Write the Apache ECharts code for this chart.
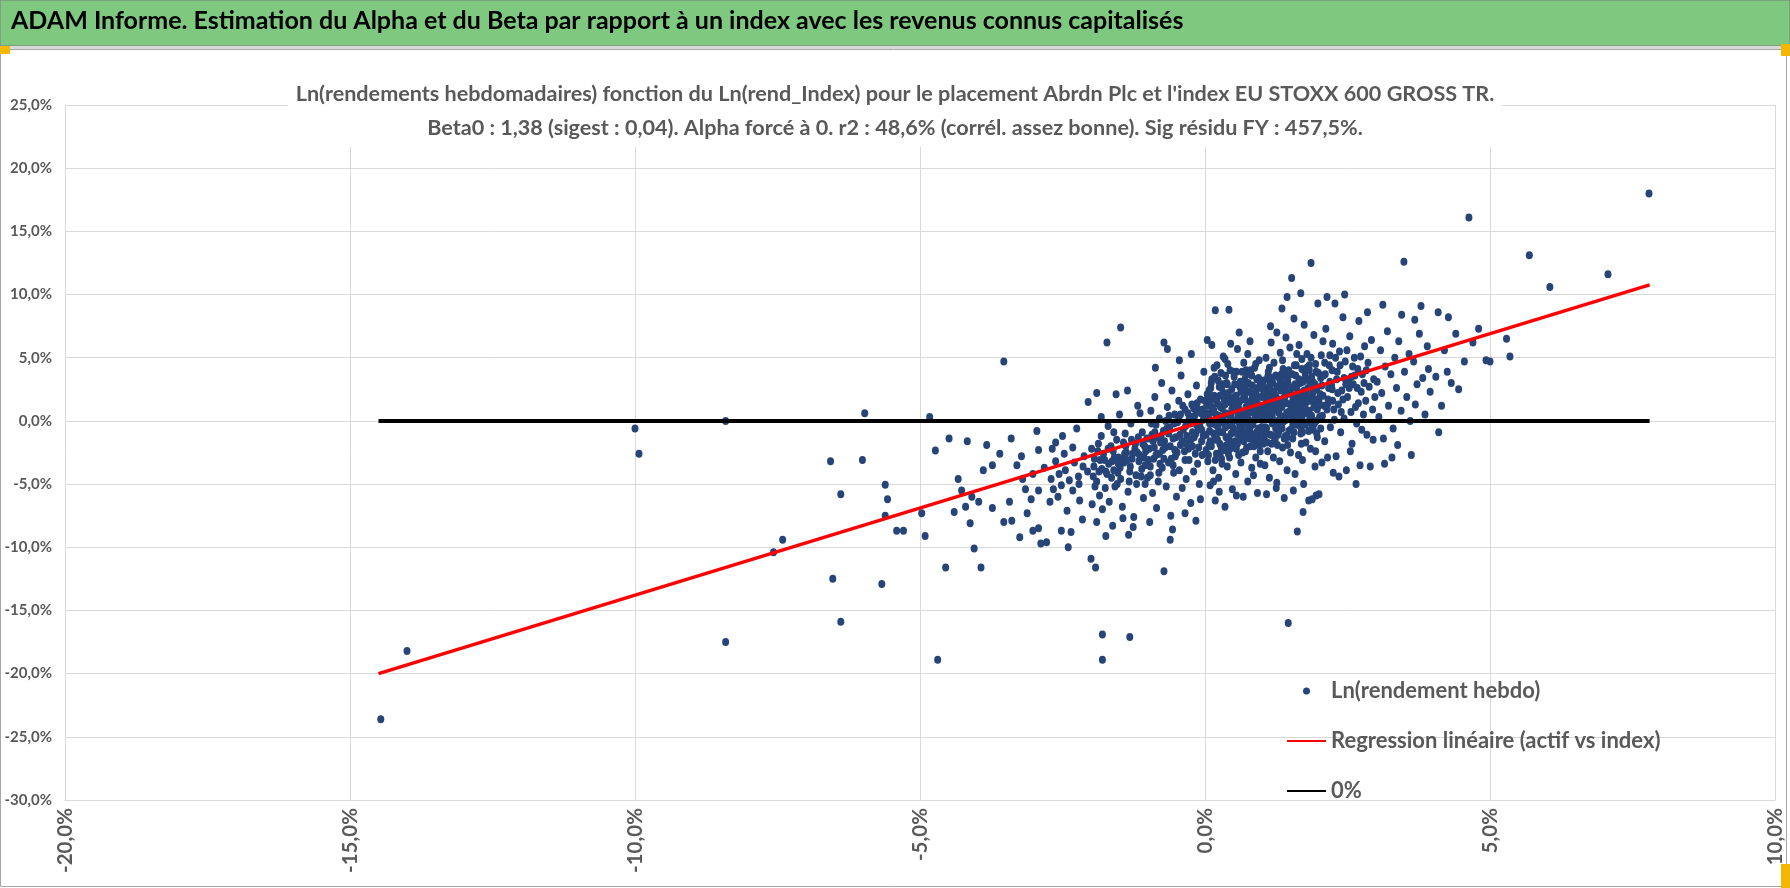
<!DOCTYPE html>
<html><head><meta charset="utf-8">
<script src="https://cdn.jsdelivr.net/npm/echarts@6/dist/echarts.min.js"></script>
<style>html,body{margin:0;padding:0;background:#fff}#c{width:1790px;height:888px}</style>
</head><body><div id="c"></div>
<script>
const mainTitle = "ADAM Informe. Estimation du Alpha et du Beta par rapport à un index avec les revenus connus capitalisés";
const subTitle1 = "Ln(rendements hebdomadaires) fonction du Ln(rend_Index) pour le placement Abrdn Plc et l'index EU STOXX 600 GROSS TR.";
const subTitle2 = "Beta0 : 1,38 (sigest : 0,04). Alpha forcé à 0. r2 : 48,6% (corrél. assez bonne). Sig résidu FY : 457,5%.";
const seriesNames = ["Ln(rendement hebdo)", "Regression linéaire (actif vs index)", "0%"];
const xAxisMin = -20, xAxisMax = 10, xAxisStep = 5;
const yAxisMin = -30, yAxisMax = 25, yAxisStep = 5;

// [index %, asset %]
const outlierPoints = [[-14.46,-23.6],[-14.0,-18.2],[-10.0,-0.6],[-9.93,-2.6],[-8.41,0.0],[-8.41,-17.5],[-7.41,-9.4],[-7.57,-10.4],[-6.57,-3.2],[-6.39,-5.8],[-6.53,-12.5],[-6.39,-15.9],[-6.01,-3.1],[-5.67,-12.9],[-5.97,0.6],[-4.83,0.3],[-4.69,-18.9],[-4.55,-11.6],[-3.53,4.7],[-1.8,-16.9],[-1.8,-18.9],[-1.32,-17.1],[-0.72,-11.9],[1.46,-16.0],[4.63,16.1],[5.69,13.1],[6.05,10.6],[7.07,11.6],[7.79,18.0],[-1.72,6.2],[-1.48,7.4]];

const pointsFarLeft = [[-5.61,-5.05],[-5.57,-6.2],[-5.61,-7.5],[-5.41,-8.7],[-5.29,-8.7],[-4.97,-7.3],[-4.91,-9.1],[-4.73,-2.35],[-4.33,-4.6],[-4.49,-1.4],[-4.17,-1.6],[-4.05,-10.1],[-3.93,-11.6],[-4.27,-5.5],[-4.09,-6.0],[-4.2,-6.8],[-4.4,-7.2],[-4.12,-8.1],[-3.97,-6.4],[-3.89,-3.9],[-3.73,-3.5],[-3.73,-6.9],[-3.53,-8.0],[-3.39,-7.9],[-3.43,-6.4]];

const pointsLeft = [[-3.4,-1.4],[-3.6,-2.6],[-3.83,-1.9],[-3.22,-2.8],[-3.12,-7.3],[-3.2,-4.6],[-3.02,-4.2],[-2.92,-2.3],[-2.82,-3.7],[-2.62,-3.2],[-2.62,-1.7],[-2.52,-5.1],[-2.92,-5.5],[-2.72,-6.4],[-3.02,-8.7],[-2.92,-8.5],[-2.52,-8.7],[-2.42,-7.1],[-2.32,-5.5],[-2.22,-4.4],[-2.12,-2.8],[-2.32,-2.1],[-2.88,-9.7],[-2.78,-9.6],[-3.3,-3.5],[-3.05,-6.2],[-2.7,-4.6],[-2.45,-3.9],[-2.58,-6.0],[-2.2,-6.3],[-2.15,-7.8],[-2.35,-8.8],[-3.25,-9.2],[-2.95,-0.8],[-2.5,-1.2],[-2.25,-0.6],[-2.05,1.5],[-1.9,2.2],[-2.0,-10.9],[-1.92,-11.6],[-2.68,-2.2],[-3.15,-5.4],[-2.4,-10.0]];

const pointsMidLeft = [[-1.95,-3.6],[-1.9,-4.8],[-1.88,-2.4],[-1.85,-5.9],[-1.82,-1.2],[-1.8,-7.0],[-1.76,-3.1],[-1.72,-4.2],[-1.7,-0.4],[-1.68,-6.4],[-1.65,-2.0],[-1.62,-8.3],[-1.6,-3.9],[-1.58,-5.2],[-1.55,-1.5],[-1.52,-2.9],[-1.5,0.5],[-1.48,-4.6],[-1.45,-6.8],[-1.42,-3.3],[-1.4,-1.0],[-1.38,-2.5],[-1.35,-5.6],[-1.32,-4.0],[-1.3,-0.2],[-1.28,-3.0],[-1.25,-7.6],[-1.22,-1.8],[-1.2,-5.0],[-1.18,1.2],[-1.15,-2.7],[-1.12,-4.4],[-1.1,-0.9],[-1.08,-6.1],[-1.05,-3.5],[-1.02,-1.4],[-1.98,-6.6],[-1.74,-9.1],[-1.34,-9.0],[-1.6,-0.9],[-1.44,-7.7],[-1.26,-8.4],[-1.56,2.1],[-1.14,0.6],[-1.9,-8.0],[-1.05,-5.0],[-1.36,2.4],[-1.82,0.3]];

const pointsNearZero = [[-0.98,-2.2],[-0.96,-4.3],[-0.95,0.8],[-0.93,-1.1],[-0.92,-5.7],[-0.9,-3.0],[-0.88,1.9],[-0.86,-0.3],[-0.85,-6.9],[-0.83,-2.6],[-0.82,-4.8],[-0.8,0.2],[-0.78,-1.7],[-0.76,3.0],[-0.75,-3.7],[-0.73,-0.8],[-0.72,6.2],[-0.66,5.7],[-0.7,-2.1],[-0.68,-5.2],[-0.66,1.1],[-0.64,-3.3],[-0.62,-0.5],[-0.6,-7.5],[-0.58,2.4],[-0.56,-1.4],[-0.55,-4.1],[-0.53,0.5],[-0.52,-2.8],[-0.5,-6.0],[-0.48,-0.1],[-0.46,1.6],[-0.45,-3.9],[-0.43,-1.9],[-0.42,3.6],[-0.4,-5.3],[-0.38,-0.7],[-0.36,-2.4],[-0.35,0.9],[-0.33,-4.6],[-0.32,-1.2],[-0.3,2.1],[-0.28,-3.1],[-0.26,-0.2],[-0.25,-6.5],[-0.23,1.3],[-0.22,-2.0],[-0.2,-4.0],[-0.18,0.4],[-0.16,-1.0],[-0.15,2.8],[-0.13,-3.4],[-0.12,-0.6],[-0.1,-5.0],[-0.08,1.7],[-0.06,-1.6],[-0.05,-2.7],[-0.03,0.1],[-0.02,3.9],[-0.97,-8.0],[-0.57,-8.6],[-0.35,-7.3],[-0.16,-7.9],[-0.87,4.2],[-0.45,4.8],[-0.24,5.3],[-0.61,-9.4],[-0.08,-6.2]];

const pointsZeroToOne = [[0.02,-1.1],[0.03,1.2],[0.04,6.4],[0.05,-3.2],[0.06,0.3],[0.07,2.4],[0.08,-0.8],[0.09,-5.1],[0.1,1.6],[0.11,-2.0],[0.12,3.3],[0.13,-0.2],[0.14,-3.9],[0.15,0.9],[0.16,2.0],[0.17,-1.5],[0.18,8.75],[0.18,-6.3],[0.19,0.5],[0.2,-2.6],[0.21,4.4],[0.22,1.4],[0.23,-0.5],[0.24,-4.5],[0.25,2.7],[0.26,-1.8],[0.27,0.0],[0.28,3.8],[0.29,-3.0],[0.3,1.0],[0.31,-0.9],[0.32,5.1],[0.33,2.2],[0.34,-2.3],[0.35,-6.8],[0.36,0.6],[0.37,-1.3],[0.38,3.0],[0.39,-3.6],[0.4,1.8],[0.41,-0.3],[0.42,8.8],[0.43,-2.9],[0.44,4.0],[0.45,0.2],[0.46,-1.7],[0.47,2.5],[0.48,-5.4],[0.49,1.1],[0.5,-0.6],[0.51,3.5],[0.52,-2.1],[0.53,0.8],[0.54,-4.2],[0.55,2.0],[0.56,-1.0],[0.57,5.7],[0.58,0.3],[0.59,-2.7],[0.6,1.5],[0.61,-0.4],[0.62,3.1],[0.63,-3.3],[0.64,0.7],[0.65,-1.4],[0.66,2.6],[0.67,-6.0],[0.68,4.6],[0.69,-0.1],[0.7,1.9],[0.71,-2.4],[0.72,0.4],[0.73,3.7],[0.74,-1.1],[0.75,-4.8],[0.76,2.3],[0.77,-0.7],[0.78,1.2],[0.79,6.3],[0.8,-2.0],[0.81,0.9],[0.82,-3.7],[0.83,2.8],[0.84,-0.3],[0.85,1.6],[0.86,-1.6],[0.87,4.2],[0.88,0.1],[0.89,-2.9],[0.9,2.1],[0.91,-0.9],[0.92,-5.7],[0.93,1.3],[0.94,3.4],[0.95,-1.9],[0.96,0.5],[0.97,-3.4],[0.98,2.6],[0.99,-0.5],[0.15,-4.8],[0.35,4.9],[0.55,-5.9],[0.75,5.3],[0.95,4.8],[0.3,-3.4],[0.66,-2.5],[0.45,6.1],[0.85,-4.3],[0.6,7.0],[0.25,-5.6],[0.12,6.0]];

const pointsOneToTwo = [[1.01,1.0],[1.02,-1.8],[1.03,3.2],[1.04,0.2],[1.05,-3.5],[1.06,2.1],[1.07,5.0],[1.08,-0.6],[1.09,1.5],[1.1,-2.4],[1.11,3.9],[1.12,0.6],[1.13,-4.5],[1.14,2.5],[1.15,-1.1],[1.16,6.2],[1.17,1.2],[1.18,-0.2],[1.19,3.0],[1.2,-2.9],[1.21,4.6],[1.22,0.9],[1.23,-1.5],[1.24,2.0],[1.25,-5.3],[1.26,7.0],[1.27,0.0],[1.28,3.5],[1.29,-0.9],[1.3,1.7],[1.31,-3.2],[1.32,5.4],[1.33,2.4],[1.34,-0.4],[1.35,1.1],[1.36,-2.1],[1.37,4.1],[1.38,0.3],[1.39,-6.1],[1.4,2.9],[1.41,-1.2],[1.42,6.6],[1.43,1.4],[1.44,-3.9],[1.45,3.3],[1.46,0.7],[1.47,-0.8],[1.48,2.2],[1.49,5.8],[1.5,-2.5],[1.52,11.3],[1.51,1.0],[1.53,3.7],[1.54,-1.4],[1.55,0.4],[1.56,8.1],[1.57,2.7],[1.58,-4.2],[1.59,1.8],[1.6,4.4],[1.62,-8.75],[1.61,-0.3],[1.63,2.3],[1.64,-2.7],[1.65,6.0],[1.66,1.1],[1.67,3.0],[1.68,-1.0],[1.69,0.5],[1.7,4.9],[1.71,-3.1],[1.72,2.0],[1.73,-5.0],[1.74,7.6],[1.75,0.9],[1.76,3.5],[1.77,-1.7],[1.78,1.5],[1.79,5.3],[1.8,-0.1],[1.81,2.6],[1.82,-6.3],[1.83,4.0],[1.84,0.2],[1.85,-2.2],[1.86,12.5],[1.87,1.9],[1.88,-6.2],[1.89,3.1],[1.9,-0.7],[1.91,6.8],[1.92,1.3],[1.93,-3.6],[1.94,4.5],[1.95,0.0],[1.96,2.5],[1.97,-1.3],[1.98,9.3],[1.99,3.8],[1.26,-4.9],[1.08,-5.8],[1.55,-5.5],[1.35,8.9],[1.15,7.5],[1.68,10.1],[1.72,-7.2],[1.95,-5.9],[1.44,9.8]];

const pointsTwoToThree = [[2.0,-5.8],[2.02,2.1],[2.04,5.2],[2.06,0.4],[2.08,3.6],[2.1,-1.6],[2.12,7.3],[2.14,9.8],[2.16,1.7],[2.18,4.4],[2.2,-0.5],[2.22,2.8],[2.24,6.1],[2.26,0.9],[2.28,9.3],[2.3,-2.8],[2.32,3.9],[2.34,1.3],[2.36,5.5],[2.38,-0.9],[2.4,2.4],[2.42,8.2],[2.44,0.2],[2.46,4.7],[2.48,-3.9],[2.5,1.9],[2.52,3.2],[2.54,6.7],[2.56,0.7],[2.58,-1.8],[2.6,2.9],[2.62,5.0],[2.64,1.1],[2.66,-0.2],[2.68,4.1],[2.7,7.9],[2.72,-3.5],[2.74,2.3],[2.76,3.7],[2.78,0.5],[2.8,5.9],[2.82,1.6],[2.84,-1.1],[2.86,4.6],[2.88,2.7],[2.9,-3.6],[2.92,6.4],[2.94,0.9],[2.96,3.3],[2.98,1.9],[2.15,-2.9],[2.35,-4.4],[2.55,-2.4],[2.75,-0.7],[2.45,10.0],[2.25,-4.1],[2.85,8.6],[2.65,-5.0],[2.05,-3.3],[2.95,-1.5]];

const pointsThreeToFour = [[3.02,3.1],[3.05,0.3],[3.08,5.6],[3.1,2.2],[3.13,-1.4],[3.16,4.3],[3.2,7.1],[3.22,1.2],[3.26,3.7],[3.3,-0.6],[3.33,5.0],[3.36,2.6],[3.4,6.3],[3.44,0.8],[3.49,12.6],[3.5,3.9],[3.54,1.9],[3.58,5.3],[3.62,-2.7],[3.66,4.7],[3.69,1.3],[3.72,2.9],[3.76,6.9],[3.79,9.1],[3.82,3.4],[3.86,0.5],[3.9,5.9],[3.95,2.3],[3.12,9.2],[3.28,-2.9],[3.45,8.4],[3.6,0.0],[3.15,-3.4],[3.38,-1.9],[3.68,8.0],[3.92,4.1]];

const pointsRight = [[4.09,8.6],[4.27,8.2],[4.05,3.5],[4.15,1.2],[4.2,5.6],[4.32,3.0],[4.4,6.9],[4.55,4.7],[4.7,6.2],[4.8,7.3],[4.93,4.8],[5.0,4.7],[5.29,6.5],[5.35,5.1],[4.45,2.5],[4.1,-0.9],[4.25,3.9]];

const pointsCore = [[0.05,0.6],[0.09,-1.6],[0.14,1.9],[0.2,0.1],[0.24,-0.9],[0.29,2.6],[0.33,0.4],[0.38,-1.9],[0.43,1.5],[0.47,-0.4],[0.52,2.9],[0.57,0.0],[0.61,-1.2],[0.66,1.7],[0.7,3.3],[0.74,0.6],[0.79,-0.8],[0.84,2.2],[0.88,1.0],[0.93,-1.3],[0.97,3.0],[1.02,0.4],[1.06,-0.5],[1.1,2.6],[1.15,1.8],[1.19,0.8],[1.24,3.6],[1.28,-1.1],[1.33,1.3],[1.37,2.8],[1.42,0.1],[1.47,4.0],[1.51,2.1],[1.56,-0.9],[1.6,1.4],[1.65,3.3],[1.7,0.2],[1.74,2.4],[1.79,4.2],[1.84,1.6],[1.88,-0.4],[1.93,2.9],[1.97,0.9],[2.03,3.4],[2.09,1.2],[2.17,2.6],[2.23,4.0],[0.02,-2.3],[0.11,3.0],[0.18,-3.1],[0.27,1.1],[0.36,3.6],[0.41,-2.6],[0.5,0.9],[0.55,-2.2],[0.63,2.3],[0.68,-0.3],[0.72,4.0],[0.81,1.4],[0.86,-2.0],[0.91,0.2],[0.99,1.9],[1.04,-1.4],[1.12,1.2],[1.17,-1.8],[1.21,2.3],[1.3,0.6],[1.35,-0.6],[1.4,1.9],[1.45,-1.9],[1.53,0.3],[1.58,2.9],[1.63,0.9],[1.68,-0.5],[1.77,0.6],[1.82,3.2],[1.91,1.1],[1.96,-1.0],[-0.04,0.9],[-0.09,-0.4],[-0.14,1.4],[-0.19,-1.3],[-0.24,0.3],[-0.29,-2.2],[-0.34,-0.4],[-0.39,1.2],[-0.44,-1.1],[-0.49,-2.5],[-0.54,-0.2],[-0.59,-3.0],[-0.64,-1.0],[-0.69,0.0],[-0.74,-2.3],[-0.79,-3.4],[-0.84,-1.3],[-0.89,-2.1],[-0.94,-0.2],[-0.99,-3.1],[-1.04,-2.4],[-1.09,-1.8],[-1.16,-3.2],[-1.23,-2.2],[-1.31,-3.6],[-1.39,-2.0],[-1.46,-3.0],[-1.53,-4.1],[-1.61,-2.4],[-1.69,-3.4],[-1.78,-2.6],[-1.86,-4.0],[-1.94,-3.0],[0.31,0.2],[0.46,0.3],[0.6,0.7],[0.77,0.1],[0.92,0.9],[1.08,1.6],[1.25,1.0],[1.41,2.5],[1.57,1.1],[1.73,1.3],[1.89,2.2],[0.19,-0.3],[0.64,-0.7],[1.0,0.1],[1.22,-0.2],[1.49,0.6]];

const pointsCoreDense = [[0.04,2.1],[0.08,-0.2],[0.13,0.7],[0.17,3.5],[0.22,-1.5],[0.26,2.0],[0.3,-0.1],[0.34,1.6],[0.39,2.9],[0.42,0.5],[0.46,-1.0],[0.51,1.9],[0.55,3.9],[0.59,1.0],[0.62,-0.8],[0.67,0.3],[0.71,2.7],[0.75,1.5],[0.78,-1.4],[0.82,3.6],[0.86,0.6],[0.9,1.7],[0.94,-0.6],[0.98,0.3],[1.03,2.3],[1.07,-1.0],[1.11,1.9],[1.14,3.1],[1.18,0.4],[1.23,1.5],[1.27,2.7],[1.31,-0.3],[1.34,3.7],[1.38,1.8],[1.43,0.6],[1.46,2.9],[1.5,-0.7],[1.54,1.6],[1.59,3.6],[1.62,0.5],[1.66,2.0],[1.71,-0.9],[1.75,3.9],[1.78,2.1],[1.83,0.8],[1.87,3.5],[1.92,-0.2],[1.96,1.7],[2.01,0.3],[2.05,2.8],[2.1,4.6],[2.14,0.9],[2.19,3.1],[2.24,1.6],[2.29,5.0],[2.33,2.2],[2.39,0.7],[2.44,3.4],[2.49,5.6],[2.53,2.6],[2.59,4.3],[2.63,3.6],[2.69,1.4],[2.73,5.1],[2.79,3.0],[2.83,4.0],[0.01,0.4],[-0.03,-1.2],[-0.07,0.6],[-0.11,-2.1],[-0.15,-0.3],[-0.2,1.0],[-0.25,-1.5],[-0.3,0.6],[-0.35,-3.1],[-0.4,-1.6],[-0.46,0.2],[-0.51,-1.3],[-0.56,-3.5],[-0.61,-2.0],[-0.67,-0.6],[-0.72,-3.0],[-0.77,-1.2],[-0.81,-4.1],[-0.86,-2.7],[-0.91,-1.6],[-0.96,-3.6],[-1.01,-4.5],[-1.06,-2.0],[-1.11,-3.8],[-1.17,-1.3],[-1.21,-4.3],[-1.27,-2.6],[-1.33,-4.8],[-1.37,-3.1],[-1.43,-1.7],[-1.49,-3.7],[-1.54,-5.0],[-1.59,-2.9],[-1.64,-4.5],[-1.7,-2.2],[-1.75,-5.3],[-1.81,-3.8],[-1.87,-1.8],[-1.93,-5.2],[-1.99,-2.2],[-2.06,-4.0],[-2.14,-3.6],[-2.21,-5.0],[-2.29,-3.3],[-2.38,-4.7],[-2.47,-2.6],[-2.56,-4.2],[-2.66,-5.4],[0.28,-2.0],[0.53,-1.6],[0.73,-2.1],[0.97,-2.4],[1.2,-1.2],[1.44,-1.3],[1.69,-1.8],[1.94,-2.4],[0.16,4.2],[0.4,4.5],[0.65,3.9],[0.89,4.5],[1.13,4.2],[1.36,4.8],[1.61,5.3],[1.86,5.0],[2.07,6.3],[0.58,1.3],[0.8,0.7],[1.05,1.2],[1.29,0.9],[1.52,2.6],[1.76,1.0],[2.0,1.6],[0.35,1.3],[0.12,1.1],[0.47,0.9],[0.69,2.1],[0.92,2.6],[1.16,2.4],[1.39,0.0],[1.64,-0.2],[1.85,2.8]];

const pointsCoreFill = [[-0.28,0.1],[-0.22,-0.9],[-0.17,-2.6],[-0.12,0.9],[-0.06,-0.7],[0.0,1.6],[0.06,-2.7],[0.1,2.6],[0.15,-1.0],[0.2,1.7],[0.24,0.4],[0.27,-2.5],[0.32,2.9],[0.36,-0.5],[0.41,2.2],[0.44,-2.2],[0.49,0.0],[0.53,1.4],[0.57,-1.8],[0.61,2.7],[0.64,0.2],[0.68,-1.6],[0.72,1.1],[0.76,3.0],[0.79,-0.3],[0.83,1.9],[0.87,-1.1],[0.91,3.3],[0.94,1.1],[0.98,-1.6],[1.02,2.8],[1.06,0.8],[1.09,-1.7],[1.13,0.2],[1.17,3.4],[1.2,2.0],[1.24,-0.6],[1.28,1.2],[1.32,3.1],[1.35,0.2],[1.39,-1.4],[1.42,2.1],[1.46,3.7],[1.5,1.3],[1.54,-0.3],[1.57,4.4],[1.61,2.6],[1.65,0.0],[1.68,1.7],[1.72,3.1],[1.76,-0.3],[1.8,1.9],[1.83,4.4],[1.87,0.4],[1.91,2.4],[1.95,3.9],[1.99,1.2],[2.03,-0.6],[2.07,2.0],[2.11,3.7],[2.15,1.3],[2.19,5.2],[2.23,2.5],[2.27,0.1],[2.31,3.3],[2.37,4.4],[2.42,1.7],[2.47,2.9],[2.57,3.5],[2.67,2.6],[-0.33,-1.8],[-0.43,0.5],[-0.53,-2.3],[-0.63,0.4],[-0.71,-1.6],[-0.8,-2.6],[-0.88,-0.9],[-0.97,-1.4],[-1.07,-2.9],[-1.19,-2.5],[-1.29,-1.5],[-1.41,-2.6],[-1.52,-3.4],[-1.63,-3.2],[-1.74,-4.0],[-1.84,-3.1],[-1.96,-4.4],[0.07,-1.9],[0.42,-1.3],[0.7,-0.9],[1.0,-0.9],[1.27,-1.9],[1.56,0.6],[1.82,-0.8],[0.23,3.2],[0.5,3.9],[0.8,4.0],[1.1,3.5],[1.4,3.5],[1.7,4.1]];

const regressionX = [-14.5, 7.8];
const regressionY = [-20.0, 10.76];
const zeroLineX = [-14.5, 7.8];
const zeroLineY = [0, 0];

const allPoints = [].concat(outlierPoints, pointsFarLeft, pointsLeft, pointsMidLeft, pointsNearZero,
  pointsZeroToOne, pointsOneToTwo, pointsTwoToThree, pointsThreeToFour, pointsRight, pointsCore, pointsCoreDense, pointsCoreFill);

const FONT = "Lato, 'Open Sans', sans-serif";
const GREY = '#595959';
const fmt = v => v.toFixed(1).replace('.', ',') + '%';

const chart = echarts.init(document.getElementById('c'), null, {renderer: 'canvas'});
chart.setOption({
  backgroundColor: '#ffffff',
  animation: false,
  graphic: [
    {type: 'rect', z: -10, shape: {x: 0, y: 0, width: 1790, height: 46}, style: {fill: '#7ec87f', stroke: '#7a7a7a', lineWidth: 1}},
    {type: 'rect', z: -10, shape: {x: 0, y: 46, width: 1790, height: 3}, style: {fill: '#d9d9d9'}},
    {type: 'rect', z: -10, shape: {x: 0.5, y: 49.5, width: 1786, height: 837}, style: {fill: 'none', stroke: '#a6a6a6', lineWidth: 1}},
    {type: 'rect', z: -9, shape: {x: 0, y: 46, width: 10, height: 8}, style: {fill: '#f5b800'}},
    {type: 'rect', z: -9, shape: {x: 1781, y: 44, width: 9, height: 12}, style: {fill: '#f5b800'}},
    {type: 'rect', z: -9, shape: {x: 1781, y: 864, width: 9, height: 24}, style: {fill: '#f5b800'}}
  ],
  title: [
    {text: mainTitle, left: 11, top: 8, padding: 0,
     textStyle: {fontFamily: FONT, fontSize: 25, fontWeight: 'bold', color: '#000'}},
    {text: subTitle1 + '\n' + subTitle2, left: 'center', top: 75, padding: [2, 8],
     backgroundColor: '#ffffff', z: 10,
     textStyle: {fontFamily: FONT, fontSize: 21.6, fontWeight: 'bold', color: GREY, lineHeight: 34}}
  ],
  legend: {
    orient: 'vertical', left: 1281, top: 675, itemGap: 28, itemWidth: 39, itemHeight: 7,
    textStyle: {fontFamily: FONT, fontSize: 22, fontWeight: 'bold', color: GREY, lineHeight: 22},
    data: [
      {name: seriesNames[0]},
      {name: seriesNames[1], itemStyle: {opacity: 0}},
      {name: seriesNames[2], itemStyle: {opacity: 0}}
    ]
  },
  grid: {left: 65, right: 15, top: 105, bottom: 88, containLabel: false, outerBoundsMode: 'none'},
  xAxis: {
    type: 'value', min: xAxisMin, max: xAxisMax, interval: xAxisStep,
    axisLine: {show: true, onZero: false, lineStyle: {color: '#d9d9d9'}},
    axisTick: {show: false},
    splitLine: {show: true, lineStyle: {color: '#d9d9d9', width: 1}},
    axisLabel: {rotate: 90, margin: 8, formatter: fmt, fontFamily: FONT, fontSize: 20.5, fontWeight: 'bold', color: GREY}
  },
  yAxis: {
    type: 'value', min: yAxisMin, max: yAxisMax, interval: yAxisStep,
    axisLine: {show: true, onZero: false, lineStyle: {color: '#d9d9d9'}},
    axisTick: {show: false},
    splitLine: {show: true, lineStyle: {color: '#d9d9d9', width: 1}},
    axisLabel: {margin: 13, formatter: fmt, fontFamily: FONT, fontSize: 15, fontWeight: 'bold', color: GREY}
  },
  series: [
    {name: seriesNames[0], type: 'scatter', data: allPoints, symbol: 'circle', symbolSize: [7, 8],
     itemStyle: {color: '#264478', opacity: 1}, z: 2},
    {name: seriesNames[1], type: 'line', data: regressionX.map((x, i) => [x, regressionY[i]]),
     symbol: 'none', lineStyle: {color: '#ff0000', width: 3.5}, itemStyle: {color: '#ff0000'}, z: 4},
    {name: seriesNames[2], type: 'line', data: zeroLineX.map((x, i) => [x, zeroLineY[i]]),
     symbol: 'none', lineStyle: {color: '#000000', width: 4}, itemStyle: {color: '#000000'}, z: 5}
  ]
});
</script>
</body></html>
